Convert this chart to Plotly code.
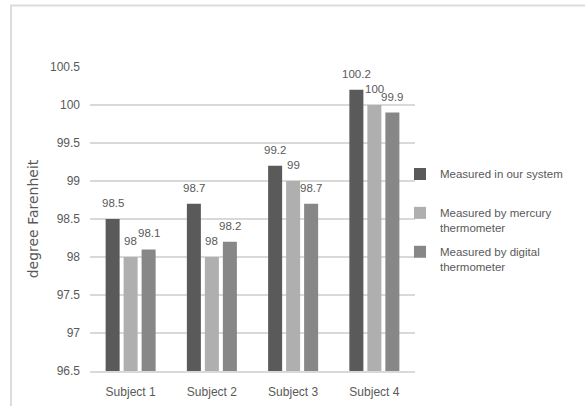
import plotly.graph_objects as go

categories = ["Subject 1", "Subject 2", "Subject 3", "Subject 4"]
series_names = [
    "Measured in our system<br> ",
    "Measured by mercury<br>thermometer",
    "Measured by digital<br>thermometer",
]
system_vals = [98.5, 98.7, 99.2, 100.2]
mercury_vals = [98.0, 98.0, 99.0, 100.0]
digital_vals = [98.1, 98.2, 98.7, 99.9]
label_texts = [
    ["98.5", "98.7", "99.2", "100.2"],
    ["98", "98", "99", "100"],
    ["98.1", "98.2", "98.7", "99.9"],
]
y_ticks = [96.5, 97, 97.5, 98, 98.5, 99, 99.5, 100, 100.5]

colors = ["#5a5a5a", "#afafaf", "#878787"]
txt = "#595959"
font_main = "Liberation Sans, Arial, sans-serif"

W, H = 585, 406
ml, mr, mt, mb = 90, 170, 67, 35
pw, ph = W - ml - mr, H - mt - mb

fig = go.Figure()
all_vals = [system_vals, mercury_vals, digital_vals]
for i, (name, vals) in enumerate(zip(series_names, all_vals)):
    fig.add_trace(go.Bar(
        x=categories, y=vals, name=name,
        marker=dict(color=colors[i], line=dict(width=0)),
        legendgroup=f"g{i}",
        hoverinfo="skip",
    ))

annotations = []
offsets = [-18, 0, 18]
for i, vals in enumerate(all_vals):
    for j, v in enumerate(vals):
        annotations.append(dict(
            x=categories[j], y=v, xref="x", yref="y",
            text=label_texts[i][j], showarrow=False,
            xanchor="center", yanchor="bottom",
            xshift=offsets[i], yshift=8,
            font=dict(family=font_main, size=11.5, color=txt),
        ))

def px_x(p):
    return (p - ml) / pw

def px_y(p):
    return (H - mb - p) / ph

shapes = [dict(
    type="rect", xref="paper", yref="paper",
    x0=px_x(11), x1=px_x(600), y0=px_y(420), y1=px_y(5.5),
    line=dict(color="#dcdcdc", width=2), fillcolor="rgba(0,0,0,0)",
    layer="below",
)]

fig.update_layout(
    width=W, height=H,
    margin=dict(l=ml, r=mr, t=mt, b=mb, pad=0, autoexpand=False),
    paper_bgcolor="white", plot_bgcolor="white",
    barmode="group", bargap=0.3354, bargroupgap=0.222,
    font=dict(family=font_main, size=12, color=txt),
    showlegend=True,
    legend=dict(
        x=px_x(400), y=px_y(160), xanchor="left", yanchor="top",
        font=dict(family=font_main, size=11.5, color=txt),
        valign="top", tracegroupgap=6, bgcolor="rgba(0,0,0,0)",
        borderwidth=0,
    ),
    xaxis=dict(
        type="category", showgrid=False, showline=True,
        linecolor="#d9d9d9", linewidth=1.5, ticks="",
        ticklabelstandoff=9, automargin=False,
        tickfont=dict(family=font_main, size=12, color=txt),
        fixedrange=True,
    ),
    yaxis=dict(
        range=[96.5, 100.5], tickvals=y_ticks,
        ticktext=[f"{t:g}" for t in y_ticks],
        showgrid=True, gridcolor="#d9d9d9", gridwidth=1.5,
        zeroline=False, showline=False, ticks="",
        ticklabelstandoff=9, automargin=False,
        tickfont=dict(family=font_main, size=12, color=txt),
        title=dict(text="degree Farenheit", standoff=8,
                   font=dict(family="DejaVu Sans, sans-serif", size=14, color=txt)),
        fixedrange=True,
    ),
    annotations=annotations,
    shapes=shapes,
)

fig.write_html("out.html", config=dict(displayModeBar=False))
